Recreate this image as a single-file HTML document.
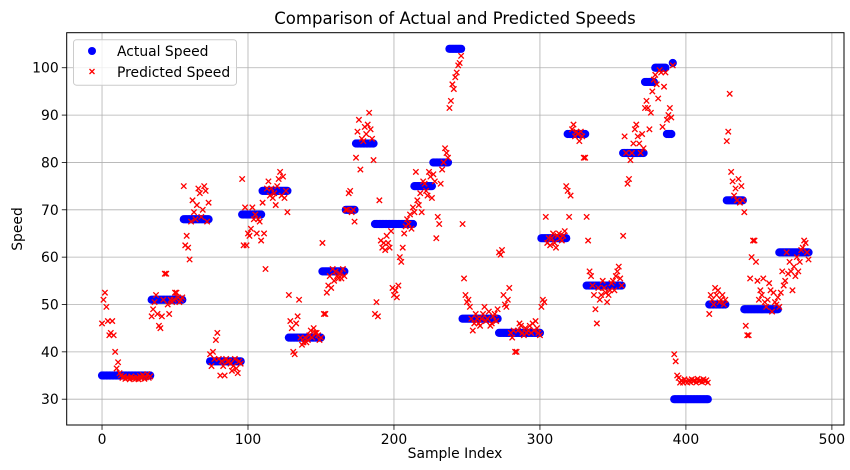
<!DOCTYPE html>
<html><head><meta charset="utf-8"><style>
body{margin:0;background:#fff;}
svg{display:block;font-family:"DejaVu Sans","Liberation Sans",sans-serif;}
</style></head><body>
<svg id="chart" width="850" height="470" viewBox="0 0 850 470" xmlns="http://www.w3.org/2000/svg">
<rect width="850" height="470" fill="#fff"/>
<text x="455" y="24" font-size="16.5" text-anchor="middle" fill="#000">Comparison of Actual and Predicted Speeds</text>
<g id="grid"></g>
<g id="marks"></g>
<rect x="66.7" y="32.7" width="777.3" height="392.3" fill="none" stroke="#000" stroke-width="1"/>
<g id="ticks"></g>
<text x="455" y="458" font-size="13.9" text-anchor="middle">Sample Index</text>
<text transform="translate(22,229) rotate(-90)" font-size="13.9" text-anchor="middle">Speed</text>
<g>
<rect x="73.5" y="39.7" width="163" height="45.5" rx="3" fill="#fff" fill-opacity="0.8" stroke="#ccc"/>
<g>
<circle cx="92" cy="51" r="4" fill="#0000ff"/>
<text x="117" y="56" font-size="13.9">Actual Speed</text>
</g>
<g>
<path d="M89.5 69 l5 5 M94.5 69 l-5 5" stroke="#ff0000" stroke-width="1.3"/>
<text x="117" y="77" font-size="13.9">Predicted Speed</text>
</g>
</g>
</svg>
<script>
const segValues=[35,51,68,38,69,74,43,57,70,84,67,75,80,104,47,44,64,86,54,82,97,100,86,101,30,50,72,49,61];
const segCounts=[34,22,18,22,14,18,23,16,7,13,27,13,11,9,25,29,18,13,25,15,7,8,4,1,24,12,12,24,21];
const predicted=[
46,51,52.5,49.5,46.5,43.5,44,46.5,43.5,40,36.5,37.8,35.5,35,34.5,34.8,34.3,34.6,34.5,34.2,34.8,34.4,34.5,34.3,34.6,34.2,34.9,34.4,35.1,34.3,34.6,35.3,34.5,34.8,
47.5,49,50.5,52,48,45.5,45,47.5,51,56.5,56.5,50,48,51,50.5,51,52.5,52.5,51.5,50.5,51,51.5,
75,62.5,64.5,62,59.5,67.5,72,69.5,68,71,74.5,73.5,68.5,70,75,74,67.5,71.5,
39.5,37,40,38.5,42.5,44,38.5,35,38,37,35,38.5,38,38,37.5,36,37,38.5,36.5,35.5,38,37.5,
76.5,62.5,70.5,62.5,65,64.5,66,70.5,68,69,65,68,67.5,63.5,
71.5,65,57.5,74.5,76,73,74.5,72.5,73.5,71,75,76.5,78,73,77,72.5,74,69.5,
52,46.5,45,40,39.5,46,47.5,51,43,41.5,42,43,42,42.5,43.5,44.5,43,45,44,44,43.5,42.5,43,
63,48,48,52.5,54,56,53.5,57.5,55,57,56,55.5,56.5,55.5,57.5,56,
70,70,73.5,74,69.5,70,67.5,
81,86.5,89,78.5,85,84.5,87.5,86,88,90.5,87,85,80.5,
48,50.5,47.5,72,63.5,62,63,61.5,64.5,63,62,65.5,53.5,52,53,51.5,54,60,59,62,65,66.5,68,67,69,66,70.5,
69.5,78,72,71,73.5,69.5,76,75.5,74,73,78,77,72.5,
77.5,76,64,68.5,67,75.5,78.5,80,83,82,81,
91.5,93,96.5,95.5,98,99,100.5,101,102.5,
67,55.5,52,50.5,51,49.5,47,44.5,46,48,47,46,45.5,47,48,49.5,46.5,47,48.5,45.5,46,47.5,48,46.5,49,
61,60.5,61.5,52,50,49.5,51,53.5,44,43,44.5,40,40,44.5,46,45.5,44,43.5,45,44,44.5,45.5,44,46,44.5,46.5,45,44,43.5,
49.5,51,50.5,68.5,63,64,62.5,64,65,63,62,64.5,65,64,63.5,64.5,65.5,75,
74,68.5,73,87,88,85.5,86.5,86,84.5,86.5,85.5,81,81,
68.5,63.5,57,56,54,52,49,46,53.5,51,52,55,53.5,52.5,50.5,52,53,54.5,55,53,56,57,58,55.5,54,
64.5,85.5,82,75.5,76.5,80.5,82,84,87,88,85.5,84,82,86,83,
91.5,93,91.5,87,90.5,95,97.5,
98.5,96.5,93.5,99.5,99,87.5,96,99,
89,90,91.5,89.5,
100.5,
39.5,38,35,34.5,33.5,34,33.5,34.2,33.8,33.5,34,33.6,34.2,33.8,34,33.5,34.3,33.8,34,33.6,34.2,33.8,34,33.5,
48,52,51,50,53.5,52,53,50.5,51,52,50,51,
84.5,86.5,94.5,78,76,73,74.5,72,76.5,71.5,75,72,
69.5,45.5,43.5,43.5,55.5,60,63.5,63.5,59,55,51,53,52,55.5,50.5,49.5,51,54.5,53,48.5,52.5,50.5,50,51.5,
49.5,52.5,57,54,55,61,56.5,59,57,53,58,56,60,57,59,61.5,62,63.5,63,61,59.5
];
const xTicks=[0,100,200,300,400,500];
const yTicks=[30,40,50,60,70,80,90,100];

const PL=66.7,PR=844,PT=32.7,PB=425;
const XMIN=-24.2,XMAX=508.3,YMIN=24.55,YMAX=107.4;
function sx(v){return PL+(v-XMIN)/(XMAX-XMIN)*(PR-PL);}
function sy(v){return PB-(v-YMIN)/(YMAX-YMIN)*(PB-PT);}
const NS="http://www.w3.org/2000/svg";
function mk(tag,attrs,parent){const e=document.createElementNS(NS,tag);for(const k in attrs)e.setAttribute(k,attrs[k]);parent.appendChild(e);return e;}
const grid=document.getElementById('grid'),ticks=document.getElementById('ticks'),marks=document.getElementById('marks');
xTicks.forEach(t=>{
  const x=sx(t);
  const g=mk('line',{x1:x,x2:x,y1:PT,y2:PB,stroke:'#b0b0b0','stroke-width':0.8},grid);
  
  
  mk('line',{x1:x,x2:x,y1:PB,y2:PB+4.9,stroke:'#000','stroke-width':0.8},ticks);
  const tx=mk('text',{x:x,y:PB+19,'font-size':13.9,'text-anchor':'middle'},ticks);
  tx.textContent=t;
  
  
});
yTicks.forEach(t=>{
  const y=sy(t);
  const g=mk('line',{x1:PL,x2:PR,y1:y,y2:y,stroke:'#b0b0b0','stroke-width':0.8},grid);
  
  
  mk('line',{x1:PL-4.9,x2:PL,y1:y,y2:y,stroke:'#000','stroke-width':0.8},ticks);
  const tx=mk('text',{x:PL-8,y:y+5,'font-size':13.9,'text-anchor':'end'},ticks);
  tx.textContent=t;
  
  
});
const actual=[];
segValues.forEach((v,i)=>{for(let k=0;k<segCounts[i];k++)actual.push(v);});
actual.forEach((v,i)=>{
  const c=mk('circle',{cx:sx(i),cy:sy(v),r:4.1,fill:'#0000ff'},marks);
  
  
});
predicted.forEach((v,i)=>{
  const x=sx(i),y=sy(v),d=2.7;
  const p=mk('path',{d:`M${x-d} ${y-d}L${x+d} ${y+d}M${x+d} ${y-d}L${x-d} ${y+d}`,stroke:'#ff0000','stroke-width':1.3},marks);
  
  
});
</script>
</body></html>
